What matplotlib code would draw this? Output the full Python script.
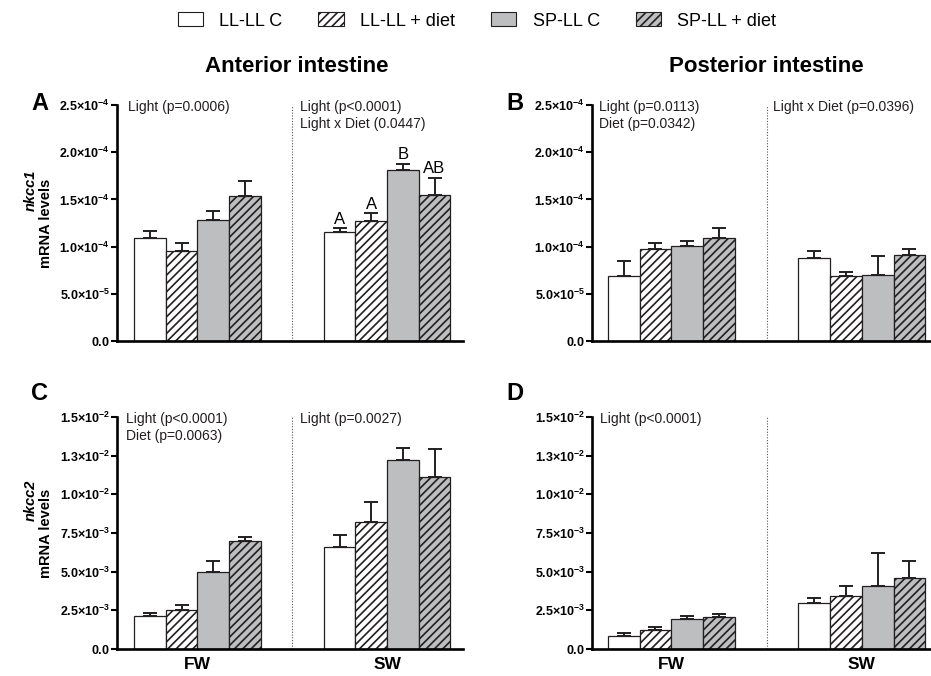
import numpy as np
import matplotlib
matplotlib.use("Agg")
import matplotlib.pyplot as plt
from matplotlib.patches import Patch
from matplotlib.transforms import blended_transform_factory

plt.rcParams['font.family'] = ['Liberation Sans', 'DejaVu Sans']
plt.rcParams['mathtext.fontset'] = 'custom'
plt.rcParams['mathtext.rm'] = 'Liberation Sans'
plt.rcParams['mathtext.bf'] = 'Liberation Sans:bold'
plt.rcParams['mathtext.it'] = 'Liberation Sans:italic'
plt.rcParams['hatch.linewidth'] = 1.2

# groupes et séries
groups = ['FW', 'SW']
series = ['LL-LL C', 'LL-LL + diet', 'SP-LL C', 'SP-LL + diet']

# nkcc1 intestin antérieur (A) et postérieur (B)
a_fw = [1.09e-4, 0.95e-4, 1.28e-4, 1.54e-4]
a_fw_err = [0.07e-4, 0.09e-4, 0.10e-4, 0.15e-4]
a_sw = [1.15e-4, 1.275e-4, 1.815e-4, 1.545e-4]
a_sw_err = [0.045e-4, 0.08e-4, 0.065e-4, 0.185e-4]
b_fw = [0.69e-4, 0.97e-4, 1.01e-4, 1.09e-4]
b_fw_err = [0.155e-4, 0.07e-4, 0.05e-4, 0.105e-4]
b_sw = [0.88e-4, 0.69e-4, 0.70e-4, 0.915e-4]
b_sw_err = [0.075e-4, 0.045e-4, 0.205e-4, 0.06e-4]

# nkcc2 intestin antérieur (C) et postérieur (D)
c_fw = [2.11e-3, 2.50e-3, 4.98e-3, 6.98e-3]
c_fw_err = [0.24e-3, 0.32e-3, 0.69e-3, 0.28e-3]
c_sw = [6.59e-3, 8.23e-3, 12.24e-3, 11.12e-3]
c_sw_err = [0.76e-3, 1.30e-3, 0.78e-3, 1.83e-3]
d_fw = [0.82e-3, 1.23e-3, 1.94e-3, 2.07e-3]
d_fw_err = [0.21e-3, 0.21e-3, 0.22e-3, 0.21e-3]
d_sw = [3.00e-3, 3.45e-3, 4.07e-3, 4.61e-3]
d_sw_err = [0.28e-3, 0.64e-3, 2.12e-3, 1.06e-3]

a_letters = ['A', 'A', 'B', 'AB']

ticks_1 = [0, 0.5e-4, 1.0e-4, 1.5e-4, 2.0e-4, 2.5e-4]
ticklabels_1 = ['0.0', '5.0×10^{-5}', '1.0×10^{-4}', '1.5×10^{-4}', '2.0×10^{-4}', '2.5×10^{-4}']
ticks_2 = [0, 2.5e-3, 5.0e-3, 7.5e-3, 1.0e-2, 1.25e-2, 1.5e-2]
ticklabels_2 = ['0.0', '2.5×10^{-3}', '5.0×10^{-3}', '7.5×10^{-3}', '1.0×10^{-2}', '1.3×10^{-2}', '1.5×10^{-2}']

notes = {
    'A': ['Light (p=0.0006)', 'Light (p<0.0001)\nLight x Diet (0.0447)'],
    'B': ['Light (p=0.0113)\nDiet (p=0.0342)', 'Light x Diet (p=0.0396)'],
    'C': ['Light (p<0.0001)\nDiet (p=0.0063)', 'Light (p=0.0027)'],
    'D': ['Light (p<0.0001)', ''],
}

GREY = '#bcbec0'
EDGE = '#231f20'
faces = ['white', 'white', GREY, GREY]
hatches = ['', '////', '', '////']

W, H = 931, 676
fig = plt.figure(figsize=(W / 100, H / 100), dpi=100)


def px_axes(left, top, right, bottom):
    return fig.add_axes([left / W, 1 - bottom / H, (right - left) / W, (bottom - top) / H])


def tick_fmt(s):
    if s == '0.0':
        return r'$\mathbf{0.0}$'
    base, exp = s.split('^')
    base = base.replace('×', r'{\times}')
    return r'$\mathbf{' + base + '^' + exp + '}$'


def draw_panel(ax, fw, fw_err, sw, sw_err, ticks, ticklabels, ymax, xlim, note, note_x, show_x):
    x_fw = np.arange(4)
    x_sw = np.arange(4) + 6
    for xs, vals, errs in [(x_fw, fw, fw_err), (x_sw, sw, sw_err)]:
        ax.errorbar(xs + 0.5, vals, yerr=[np.zeros(4), errs], fmt='none', ecolor=EDGE,
                    elinewidth=1.4, capsize=5, capthick=1.4, zorder=1)
        for i in range(4):
            ax.bar(xs[i], vals[i], width=1, align='edge', color=faces[i], edgecolor=EDGE,
                   hatch=hatches[i], linewidth=0.9, zorder=2)
    ax.axvline(5, color='#555555', lw=0.8, ls=(0, (1, 1.5)), zorder=0)
    ax.set_xlim(*xlim)
    ax.set_ylim(0, ymax)
    for s in ['top', 'right']:
        ax.spines[s].set_visible(False)
    ax.spines['left'].set_linewidth(1.9)
    ax.spines['bottom'].set_linewidth(1.9)
    ax.set_yticks(ticks)
    ax.set_yticklabels([tick_fmt(t) for t in ticklabels])
    ax.tick_params(axis='y', direction='out', length=4, width=1.5, labelsize=9, pad=1)
    if show_x:
        ax.set_xticks([2, 8])
        ax.set_xticklabels(groups, fontsize=12.5, fontweight='bold')
        ax.tick_params(axis='x', length=0, pad=6)
    else:
        ax.set_xticks([])
    tr = blended_transform_factory(ax.transData, ax.transAxes)
    ax.text(note_x[0], 1.02, note[0], transform=tr, ha='left', va='top', fontsize=10,
            linespacing=1.25, color='#231f20')
    if note[1]:
        ax.text(note_x[1], 1.02, note[1], transform=tr, ha='left', va='top', fontsize=10,
                linespacing=1.25, color='#231f20')


axA = px_axes(117, 105, 463, 341)
axB = px_axes(592, 105, 930, 341)
axC = px_axes(117, 417, 463, 649)
axD = px_axes(592, 417, 930, 649)

draw_panel(axA, a_fw, a_fw_err, a_sw, a_sw_err, ticks_1, ticklabels_1, 2.5e-4,
           (-0.54, 10.4), notes['A'], (-0.19, 5.25), False)
draw_panel(axB, b_fw, b_fw_err, b_sw, b_sw_err, ticks_1, ticklabels_1, 2.5e-4,
           (-0.5, 10.15), notes['B'], (-0.28, 5.2), False)
draw_panel(axC, c_fw, c_fw_err, c_sw, c_sw_err, ticks_2, ticklabels_2, 1.5e-2,
           (-0.54, 10.4), notes['C'], (-0.25, 5.25), True)
draw_panel(axD, d_fw, d_fw_err, d_sw, d_sw_err, ticks_2, ticklabels_2, 1.5e-2,
           (-0.5, 10.15), notes['D'], (-0.25, 5.2), True)

# lettres de significativité
for i, lab in enumerate(a_letters):
    axA.annotate(lab, (6 + i + 0.5, a_sw[i] + a_sw_err[i]), xytext=(0, 1),
                 textcoords='offset points', ha='center', va='bottom', fontsize=12)

# lettres des panneaux
for lab, x, y in [('A', 40, 103), ('B', 515, 103), ('C', 40, 394), ('D', 515, 394)]:
    fig.text(x / W, 1 - y / H, lab, fontsize=17, fontweight='bold', ha='center', va='center')

# titres des colonnes
fig.text(297 / W, 1 - 67 / H, 'Anterior intestine', fontsize=16, fontweight='bold', ha='center', va='center')
fig.text(766 / W, 1 - 67 / H, 'Posterior intestine', fontsize=16, fontweight='bold', ha='center', va='center')

# étiquettes de l'axe y
for gene, yc in [('nkcc1', 223), ('nkcc2', 533)]:
    fig.text(31 / W, 1 - (yc - 33) / H, gene, fontsize=10.5, fontweight='bold', style='italic',
             rotation=90, ha='center', va='center')
    fig.text(46 / W, 1 - yc / H, 'mRNA levels', fontsize=10.5, fontweight='bold',
             rotation=90, ha='center', va='center')

# légende
handles = [Patch(facecolor=faces[i], edgecolor=EDGE, hatch=hatches[i], linewidth=0.8, label=series[i])
           for i in range(4)]
fig.legend(handles=handles, loc='center', bbox_to_anchor=(477 / W, 1 - 21 / H), ncol=4,
           frameon=False, fontsize=13, handlelength=1.4, handleheight=0.8,
           handletextpad=0.9, columnspacing=2.0)

fig.savefig('out.png', dpi=100)
